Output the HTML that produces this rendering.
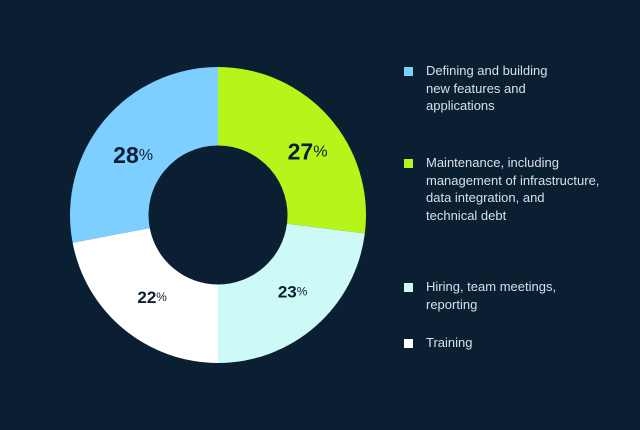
<!DOCTYPE html>
<html><head><meta charset="utf-8"><style>
body{margin:0;background:#0b1f33;}
#wrap{position:relative;width:640px;height:430px;background:#0b1f33;overflow:hidden;font-family:"Liberation Sans",sans-serif;}
.leg{position:absolute;left:404px;}
.sw{position:absolute;left:0;top:5px;width:9px;height:9px;}
.lt{position:absolute;left:22px;top:0;color:#d6e0ea;font-size:13px;line-height:17.5px;white-space:nowrap;}
</style></head><body>
<div id="wrap">
<svg id="svg" width="640" height="430" style="position:absolute;left:0;top:0"></svg>
<div class="leg" style="top:62px"><div class="sw" style="background:#7dcfff"></div><div class="lt">Defining and building<br>new features and<br>applications</div></div>
<div class="leg" style="top:154px"><div class="sw" style="background:#b5f51a"></div><div class="lt">Maintenance, including<br>management of infrastructure,<br>data integration, and<br>technical debt</div></div>
<div class="leg" style="top:278px"><div class="sw" style="background:#cdfaf7"></div><div class="lt">Hiring, team meetings,<br>reporting</div></div>
<div class="leg" style="top:334px"><div class="sw" style="background:#ffffff"></div><div class="lt">Training</div></div>
</div>
<script>
const categories=["Maintenance","Hiring","Training","Defining"];
const values=[27,23,22,28];
const colors=["#b5f51a","#cdfaf7","#ffffff","#7dcfff"];
const labelSizes=[23,17,17,23];
const labelNudgeX=[5,0,6,2];
const labelNudgeY=[11,-8,-5,12];
const cx=218,cy=215,R=148,r=69.5;
const svg=document.getElementById('svg');
const NS="http://www.w3.org/2000/svg";
const total=values.reduce((a,b)=>a+b,0);
let acc=0;
function pt(a,rad){return [cx+rad*Math.sin(a),cy-rad*Math.cos(a)];}
values.forEach((v,i)=>{
 const a0=acc/total*2*Math.PI;acc+=v;const a1=acc/total*2*Math.PI;
 const lg=(a1-a0)>Math.PI?1:0;
 const p0=pt(a0,R),p1=pt(a1,R),q1=pt(a1,r),q0=pt(a0,r);
 const p=document.createElementNS(NS,'path');
 p.setAttribute('d',`M${p0}A${R},${R} 0 ${lg} 1 ${p1}L${q1}A${r},${r} 0 ${lg} 0 ${q0}Z`);
 p.setAttribute('fill',colors[i]);
 
 
 svg.appendChild(p);
 const am=(a0+a1)/2;const lp=pt(am,(R+r)/2+4);
 const t=document.createElementNS(NS,'text');
 t.setAttribute('x',lp[0]+labelNudgeX[i]);t.setAttribute('y',lp[1]+labelNudgeY[i]);
 t.setAttribute('text-anchor','middle');t.setAttribute('dominant-baseline','central');
 t.setAttribute('fill','#0b1f33');t.setAttribute('font-family','Liberation Sans, sans-serif');
 
 
 const s=labelSizes[i];
 t.innerHTML=`<tspan font-weight="bold" font-size="${s}">${v}</tspan><tspan font-size="${s*0.7}">%</tspan>`;
 svg.appendChild(t);
});
</script>
</body></html>
